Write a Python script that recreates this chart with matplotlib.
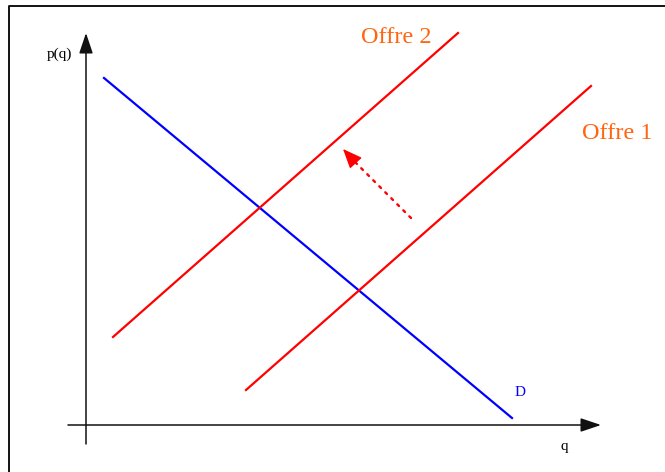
import matplotlib
matplotlib.use("Agg")
import matplotlib.pyplot as plt

# curves in (q, p) units, origin at the axes crossing
demand_q = [18, 426]
demand_p = [347, 7]
offre1_q = [160, 505]
offre1_p = [35, 339]
offre2_q = [27, 372]
offre2_p = [88, 392]

# shift arrow: start of dotted line, base of head, tip
shift_q = [325, 268, 257]
shift_p = [207, 264, 276]

labels = {"offre1": "Offre 1", "offre2": "Offre 2", "demand": "D", "x": "q", "y": "p(q)"}

RED = "#ff0000"
BLUE = "#0000ff"
ORANGE = "#ff6510"
SERIF = ["Liberation Serif", "DejaVu Serif"]

fig = plt.figure(figsize=(6.65, 4.72), dpi=100)
ax = fig.add_axes([0, 0, 1, 1])
ax.set_xlim(-86, 579)
ax.set_ylim(-47, 425)
ax.axis("off")

# frame (only top and left visible in the reference)
ax.plot([-77, -77, 579], [-47, 419, 419], color="black", lw=1.3, solid_capstyle="butt")

# axes with arrow heads
axis_arrow = dict(arrowstyle="-|>,head_length=1.25,head_width=0.42", color="#111111",
                  lw=1.1, shrinkA=0, shrinkB=0, mutation_scale=10)
ax.annotate("", xy=(0, 392), xytext=(0, -19), arrowprops=axis_arrow)
ax.annotate("", xy=(515, 0), xytext=(-18, 0), arrowprops=axis_arrow)

ax.plot(demand_q, demand_p, color=BLUE, lw=1.6)
ax.plot(offre1_q, offre1_p, color=RED, lw=1.6)
ax.plot(offre2_q, offre2_p, color=RED, lw=1.6)

# dotted shift arrow
ax.plot(shift_q[:2], shift_p[:2], color=RED, lw=1.7, linestyle=(0, (1, 2.6)),
        dash_capstyle="round")
ax.annotate("", xy=(shift_q[2], shift_p[2]), xytext=(shift_q[1], shift_p[1]),
            arrowprops=dict(arrowstyle="-|>,head_length=1.2,head_width=0.5", color=RED,
                            lw=1, shrinkA=0, shrinkB=0, mutation_scale=10))

ax.text(310, 382, labels["offre2"], color=ORANGE, fontsize=17.5, family=SERIF,
        ha="center", va="baseline")
ax.text(531, 286, labels["offre1"], color=ORANGE, fontsize=17.5, family=SERIF,
        ha="center", va="baseline")
ax.text(434.5, 29, labels["demand"], color=BLUE, fontsize=11, family=SERIF,
        ha="center", va="baseline")
ax.text(478, -25, labels["x"], color="black", fontsize=11, family=SERIF,
        ha="center", va="baseline")
ax.text(-27, 367, labels["y"], color="black", fontsize=11, family=SERIF,
        ha="center", va="baseline")

fig.savefig("out.png", dpi=100)
